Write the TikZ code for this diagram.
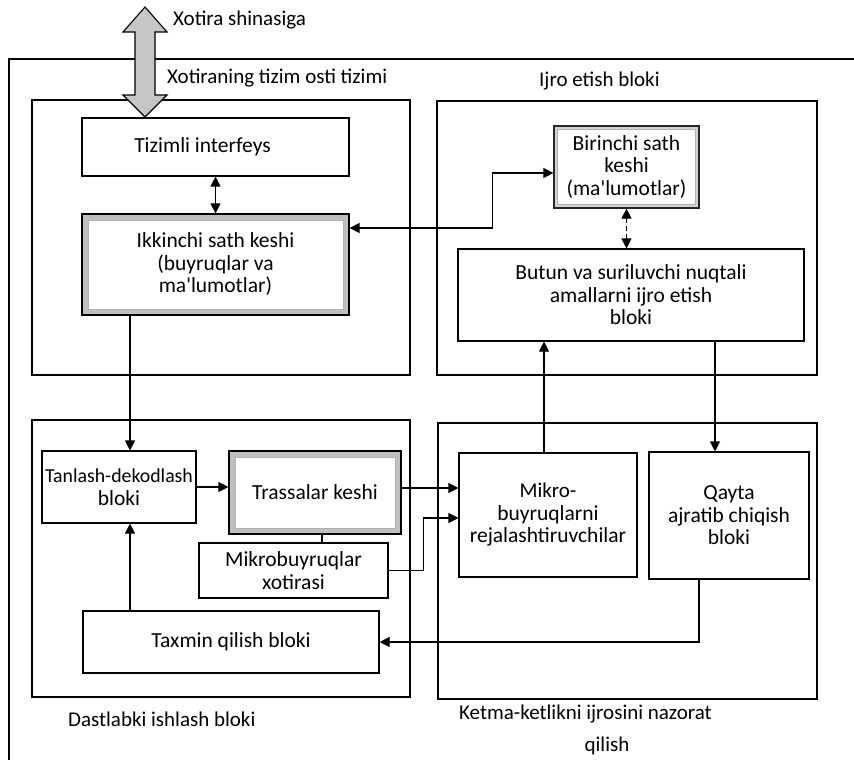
\documentclass[tikz,border=0pt]{standalone}
\usepackage{fontspec}
\setmainfont{Carlito}
\usetikzlibrary{arrows.meta,calc}
\begin{document}
\begin{tikzpicture}[x=1pt,y=-1pt,
  every node/.style={font=\fontsize{21.5}{22.5}\selectfont, inner sep=0pt, align=center},
  frame/.style={draw, line width=1.1pt},
  blk/.style={draw, line width=1.1pt},
  grainbox/.style={draw=black, line width=1.2pt, fill=gray!50,
    path picture={\filldraw[fill=white, draw=gray!60, line width=0.6pt]
      ([shift={(#1,-#1)}]path picture bounding box.north west) rectangle
      ([shift={(-#1,#1)}]path picture bounding box.south east);}},
  grainbox/.default=6pt,
  conn/.style={line width=1.1pt},
  arr/.style={conn, -{Triangle[length=10pt,width=10pt]}},
  barr/.style={conn, {Triangle[length=10pt,width=10pt]}-{Triangle[length=10pt,width=10pt]}},
  lbl/.style={anchor=base west, font=\fontsize{21}{24}\selectfont}
]
\useasboundingbox (0,0) rectangle (854,760);
\fill[white] (0,0) rectangle (854,760);

% outer frame (top and left lines)
\draw[conn] (854,59) -- (9,59) -- (9,760);

% group frames
\node[frame, minimum width=378pt, minimum height=275pt] (fmem) at (221,237.5) {};
\node[frame, minimum width=380pt, minimum height=274pt] (fexe) at (627,238) {};
\node[frame, minimum width=378pt, minimum height=277pt] (fpre) at (221,558.5) {};
\node[frame, minimum width=379pt, minimum height=276pt] (fseq) at (627.5,561) {};

% blocks
\node[blk, minimum width=267pt, minimum height=58pt] (tiz) at (215.5,147) {\hspace*{-26pt}Tizimli interfeys};
\node[grainbox, minimum width=267pt, minimum height=101pt] (ikk) at (215.5,264.5)
  {Ikkinchi sath keshi\\(buyruqlar va\\ma\textquotesingle lumotlar)};
\node[grainbox=3.5pt, fill=gray!35, draw=black!85, minimum width=145pt, minimum height=82pt] (bir) at (626.5,167)
  {\fontsize{21.5}{18.5}\selectfont Birinchi sath\\keshi\\(ma\textquotesingle lumotlar)};
\node[blk, minimum width=346pt, minimum height=92pt] (but) at (631,295)
  {\fontsize{21.5}{27}\selectfont Butun va suriluvchi nuqtali\\amallarni ijro etish\\bloki};
\node[blk, minimum width=154pt, minimum height=72pt] (tan) at (119,487)
  {\fontsize{19.8}{24}\selectfont Tanlash-dekodlash\\bloki};
\node[grainbox, minimum width=172pt, minimum height=83pt] (tra) at (315,492.5) {Trassalar keshi};
\node[blk, minimum width=189pt, minimum height=55pt] (mkb) at (293.5,570.5)
  {Mikrobuyruqlar\\xotirasi};
\node[blk, minimum width=178pt, minimum height=124pt] (mik) at (548,515)
  {\fontsize{21}{22.5}\selectfont Mikro-\\buyruqlarni\\rejalashtiruvchilar};
\node[blk, minimum width=160pt, minimum height=127pt] (qay) at (729,515.5)
  {Qayta\\ajratib chiqish\\bloki};
\node[blk, minimum width=296pt, minimum height=62pt] (tax) at (231,642) {Taxmin qilish bloki};

% big double arrow to memory bus
\filldraw[fill=gray!45, draw=black, line width=1.1pt]
  (145,7) -- (167,32) -- (155,32) -- (155,95) -- (167,95) -- (145,117)
  -- (123,95) -- (135,95) -- (135,32) -- (123,32) -- cycle;

% labels
\node[lbl] (lbus) at (173,26) {Xotira shinasiga};
\node[lbl] (lmem) at (167,84) {Xotiraning tizim osti tizimi};
\node[lbl] (lexe) at (539,86) {Ijro etish bloki};
\node[lbl] (lpre) at (68,726) {Dastlabki ishlash bloki};
\node[lbl] (lseq) at (459,719) {Ketma-ketlikni ijrosini nazorat};
\node[lbl, anchor=base] (lseq2) at (607,751) {qilish};

% connectors
\draw[barr] (tiz.south) -- (tiz.south |- ikk.north);
\draw[barr] ([yshift=36.5pt]ikk.east) -- ++(143,0) |- ([yshift=-6pt]bir.west);
\draw[barr, dashed, dash pattern=on 5pt off 3pt] (bir.south) -- (bir.south |- but.north);
\draw[arr] ([xshift=11pt]tan.north |- ikk.south) -- ([xshift=11pt]tan.north);
\draw[arr] ([xshift=11pt]tan.south |- tax.north) -- ([xshift=11pt]tan.south);
\draw[arr] (tan.east) -- (tan.east -| tra.west);
\draw[arr] ([yshift=4.5pt]tra.east) -- ([yshift=4.5pt]tra.east -| mik.west);
\draw[conn] ([xshift=7pt]tra.south) -- ([xshift=7pt]tra.south |- mkb.north);
\draw[arr] (mkb.east) -- ++(35,0) |- ([yshift=-3pt]mik.west);
\draw[arr] ([xshift=-4pt]mik.north) -- ([xshift=-4pt]mik.north |- but.south);
\draw[arr] ([xshift=-14pt]qay.north |- but.south) -- ([xshift=-14pt]qay.north);
\draw[arr] ([xshift=-30pt]qay.south) |- (tax.east);
\end{tikzpicture}
\end{document}
